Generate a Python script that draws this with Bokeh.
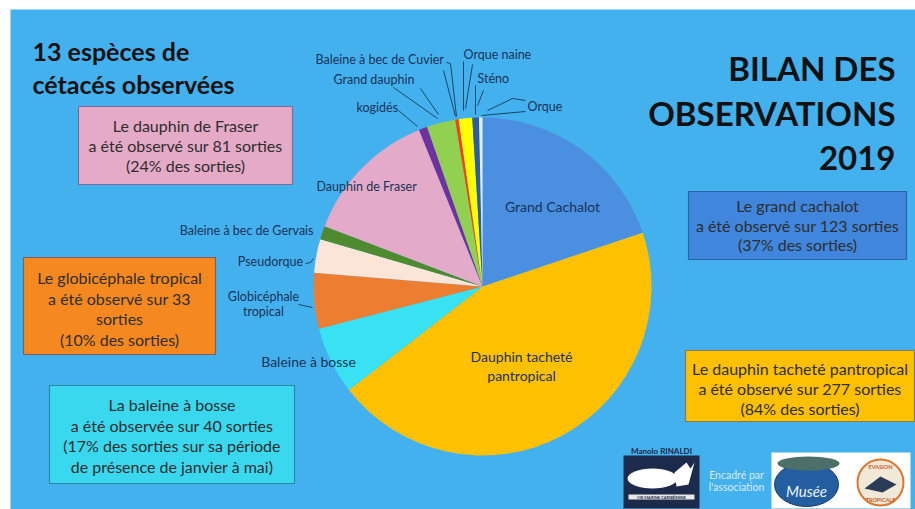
import math
from bokeh.plotting import figure
from bokeh.models import Range1d
from bokeh.core.properties import value
from bokeh.embed import file_html
from bokeh.resources import INLINE

# ---------------- data ----------------
species = ["Grand Cachalot", "Dauphin tacheté pantropical", "Baleine à bosse",
           "Globicéphale tropical", "Pseudorque", "Baleine à bec de Gervais",
           "Dauphin de Fraser", "kogidés", "Grand dauphin",
           "Baleine à bec de Cuvier", "Orque naine", "Sténo", "Orque"]
sorties = [123, 277, 40, 33, 20, 8, 81, 5, 17, 2, 8, 4, 2]
slice_colors = ["#4a8fe0", "#ffc000", "#38e2f2", "#ed7d31", "#fbe5d6", "#4e8a2e",
                "#e3abc9", "#7030a0", "#92d050", "#ff4000", "#ffff00", "#2f5f9a", "#e4eef8"]

title_left = ["13 espèces de", "cétacés observées"]
title_right = ["BILAN DES", "OBSERVATIONS", "2019"]

box_fraser = ["Le dauphin de Fraser", "a été observé sur 81 sorties", "(24% des sorties)"]
box_cachalot = ["Le grand cachalot", "a été observé sur 123 sorties", "(37% des sorties)"]
box_globi = ["Le globicéphale tropical", "a été observé sur 33", "sorties", "(10% des sorties)"]
box_baleine = ["La baleine à bosse", "a été observée sur 40 sorties",
               "(17% des sorties sur sa période", "de présence de janvier à mai)"]
box_tachete = ["Le dauphin tacheté pantropical", "a été observé sur 277 sorties", "(84% des sorties)"]

BG = "#44b1ef"
LABEL_COLOR = "#1a3358"
BOX_TEXT = "#2e2e2e"
FONT = value("Lato")

W, H = 915, 509
p = figure(width=W, height=H, x_range=Range1d(10, 915), y_range=Range1d(0, 500),
           output_backend="svg", toolbar_location=None,
           x_axis_type=None, y_axis_type=None,
           min_border_left=10, min_border_top=9, min_border_right=0, min_border_bottom=0,
           background_fill_color=BG, border_fill_color="white", outline_line_color=None)
p.grid.visible = False


def Y(py):
    return 509 - py


# ---------------- pie ----------------
cx, cy, r = 482, Y(286), 169
total = sum(sorties)
starts, ends = [], []
acc = 0.0
for v in sorties:
    t1 = acc / total * 2 * math.pi
    acc += v
    t2 = acc / total * 2 * math.pi
    # clockwise from 12 o'clock -> bokeh anticlockwise from +x
    starts.append(math.pi / 2 - t2)
    ends.append(math.pi / 2 - t1)
p.wedge(x=[cx] * len(sorties), y=[cy] * len(sorties), radius=r,
        start_angle=starts, end_angle=ends, fill_color=slice_colors,
        line_color=None)


def txt(x, y, s, size="12px", color=LABEL_COLOR, align="center", style="normal",
        baseline="middle", font=FONT):
    p.text(x=[x], y=[Y(y)], text=[s], text_font=font, text_font_size=size,
           text_color=color, text_align=align, text_baseline=baseline,
           text_font_style=style)


# labels on / around the pie
S_IN = "14px"
S_OUT = "12.5px"
txt(552, 206, "Grand Cachalot", S_IN)
txt(521, 356, "Dauphin tacheté", S_IN)
txt(521, 375, "pantropical", S_IN)
txt(308, 361, "Baleine à bosse", S_IN)
txt(263, 296, "Globicéphale", S_OUT)
txt(263, 311, "tropical", S_OUT)
txt(270, 261, "Pseudorque", S_OUT)
txt(313, 230, "Baleine à bec de Gervais", S_OUT, align="right")
txt(316, 186, "Dauphin de Fraser", S_OUT, align="left")
txt(356, 107, "kogidés", S_OUT, align="left")
txt(333, 79, "Grand dauphin", S_OUT, align="left")
txt(315, 59, "Baleine à bec de Cuvier", S_OUT, align="left")
txt(463, 54, "Orque naine", S_OUT, align="left")
txt(477, 78, "Sténo", S_OUT, align="left")
txt(527, 106, "Orque", S_OUT, align="left")

# leader lines
leaders = [
    ([298, 312], [304, 307]),
    ([305, 310, 313], [263, 262, 258]),
    ([398, 417], [110, 126]),
    ([420, 438], [88, 114]),
    ([393, 437], [87, 118]),
    ([443, 455], [70, 116]),
    ([446, 450, 456], [62, 63, 116]),
    ([463, 463], [61, 110]),
    ([472, 465], [64, 108]),
    ([475, 475], [85, 114]),
    ([483, 477], [90, 105]),
    ([525, 481], [111, 115]),
    ([525, 512, 487], [100, 98, 110]),
]
for xs, ys in leaders:
    p.line(x=xs, y=[Y(v) for v in ys], line_color="#1d4466", line_width=1)


# ---------------- boxes ----------------
def box(l, t, rgt, b, fill, border, lines, size, y0, dy):
    p.quad(left=[l], right=[rgt], top=[Y(t)], bottom=[Y(b)], fill_color=fill,
           line_color=border, line_width=1.2)
    xc = (l + rgt) / 2
    for i, s in enumerate(lines):
        txt(xc, y0 + i * dy, s, size, color=BOX_TEXT)


S_BOX = "16px"
box(78, 106, 292, 184, "#e5aac6", "#7a6b9a", box_fraser, S_BOX, 125, 20)
box(688, 191, 906, 259, "#3f86dc", "#2a63a8", box_cachalot, S_BOX, 205, 19.5)
box(23, 257, 215, 354, "#f5891f", "#7b6060", box_globi, S_BOX, 277, 20.5)
box(49, 385, 294, 483, "#3ad8ef", "#2b86a6", box_baleine, S_BOX, 404, 20.5)
box(685, 350, 914, 421, "#ffc000", "#8c7a4a", box_tachete, S_BOX, 368, 20)

# ---------------- titles ----------------
txt(32, 50, title_left[0], "25px", color="#111111", align="left", style="bold",
    baseline="alphabetic")
txt(32, 83, title_left[1], "25px", color="#111111", align="left", style="bold",
    baseline="alphabetic")
for i, s in enumerate(title_right):
    txt(895, 67 + i * 45, s, "33px", color="#111111", align="right", style="bold",
        baseline="alphabetic")

# ---------------- logos (decoration) ----------------
txt(661, 450, "Manolo RINALDI", "8px", color="#1b2744", style="bold")
p.quad(left=[623], right=[699], top=[Y(455)], bottom=[Y(508)], fill_color="#1c2a4b",
       line_color=None)
p.ellipse(x=[652], y=[Y(478)], width=50, height=20, fill_color="white", line_color=None)
p.patch(x=[674, 686, 690, 694, 688, 676], y=[Y(v) for v in [472, 462, 468, 462, 484, 486]],
        fill_color="white", line_color=None)
p.quad(left=[628], right=[694], top=[Y(494)], bottom=[Y(499)], fill_color="#e8e8e8",
       line_color=None)
txt(661, 496.5, "VIE MARINE CARIBÉENNE", "4px", color="#1c2a4b", style="bold")
txt(736, 474, "Encadré par", "10.5px", color="#d9ecfb")
txt(736, 486, "l'association", "10.5px", color="#d9ecfb")
p.quad(left=[771], right=[910], top=[Y(452)], bottom=[Y(508)], fill_color="white",
       line_color=None)
p.ellipse(x=[806], y=[Y(484)], width=64, height=44, fill_color="#235ea0",
          line_color="#16386a")
p.ellipse(x=[808], y=[Y(463)], width=62, height=14, fill_color="#4c6f6a",
          line_color=None)
txt(806, 490, "Musée", "15px", color="#eaf2ff", style="italic")
p.circle(x=[880], y=[Y(482)], radius=23, fill_color="#f1e8d8", line_color="#d9772e",
         line_width=2)
p.patch(x=[864, 880, 896, 882], y=[Y(v) for v in [488, 476, 484, 492]],
        fill_color="#2a3b55", line_color=None)
txt(880, 466, "EVASION", "5.5px", color="#c4612a", style="bold")
txt(880, 499, "TROPICALE", "5.5px", color="#c4612a", style="bold")

open("out.html", "w").write(file_html(p, INLINE))
